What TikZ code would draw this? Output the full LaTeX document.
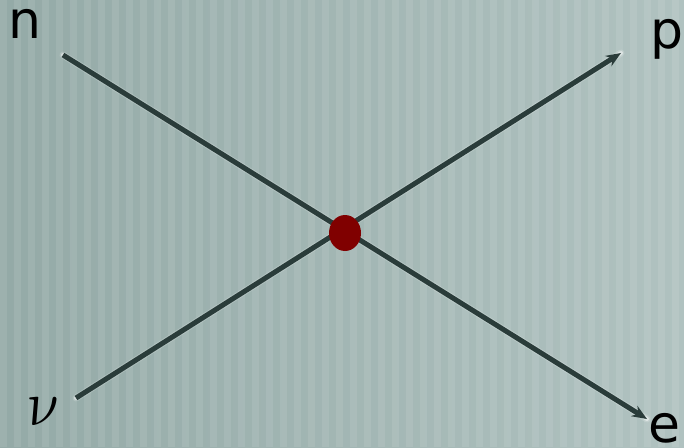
\documentclass[tikz,border=0pt]{standalone}
\usepackage{fontspec}
\usepackage{graphicx}
\setmainfont{DejaVu Sans}
\usetikzlibrary{arrows.meta,shapes.geometric}
\definecolor{bgL}{RGB}{148,170,167}
\definecolor{bgR}{RGB}{176,194,192}
\definecolor{lineC}{RGB}{42,60,58}
\definecolor{dotC}{RGB}{128,0,0}
\tikzset{
  lbl/.style={inner sep=0pt, anchor=base, font=\fontsize{52}{52}\selectfont, text=black},
  grk/.style={inner sep=0pt, anchor=base, text=black},
  track/.style={line width=5pt, draw=lineC, line cap=butt},
  glow/.style={line width=4pt, draw=white, opacity=0.45, line cap=round},
  softglow/.style={line width=7pt, draw=white, opacity=0.18, line cap=round},
  tip/.style={-{Stealth[length=15pt,width=12pt]}},
  vertex/.style={ellipse, fill=dotC, minimum width=32pt, minimum height=36pt, inner sep=0pt},
}
\begin{document}
\begin{tikzpicture}[x=1pt,y=-1pt]
\useasboundingbox (0,0) rectangle (684,447);
% background
\shade[left color=bgL, right color=bgR] (0,0) rectangle (684,447);
\foreach \i in {0,14,...,684} {
  \fill[white, opacity=0.09] (\i,0) rectangle ++(7,447);
}
% coordinates
\coordinate (nS) at (63,55);
\coordinate (eE) at (647,419);
\coordinate (vS) at (76,398);
\coordinate (pE) at (621,53);
% glow shadows
\draw[softglow, shift={(1,4.5)}] (nS) -- (eE);
\draw[glow, shift={(1,4.5)}] (nS) -- (eE);
\draw[softglow, shift={(1.5,4.5)}] (vS) -- (pE);
\draw[glow, shift={(1.5,4.5)}] (vS) -- (pE);
% tracks
\draw[track, tip] (nS) -- (eE);
\draw[track, tip] (vS) -- (pE);
\node[vertex] (X) at (345,233) {};
% labels
\node[lbl] (n) at (24.5,38) {n};
\node[lbl] (p) at (667,48) {p};
\node[lbl] (e) at (664,442) {e};
\node[grk, xslant=-0.15] (nu) at (46,425) {\scalebox{6}[6.4]{$\nu$}};
\end{tikzpicture}
\end{document}
